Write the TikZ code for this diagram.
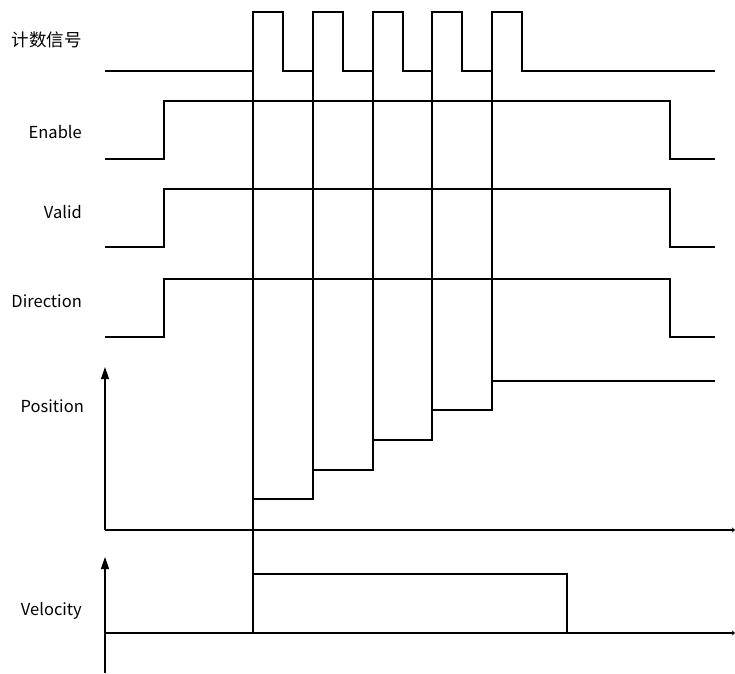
\documentclass[tikz,border=0pt]{standalone}
\usepackage{fontspec}
\setmainfont{Noto Sans CJK SC}
\usetikzlibrary{arrows.meta}

\begin{document}
\begin{tikzpicture}[x=1pt,y=-1pt,
    sig/.style={line width=1.8pt,line join=miter},
    guide/.style={line width=1.1pt},
    axis/.style={line width=1.3pt},
    lbl/.style={anchor=east,inner sep=0pt,font=\fontsize{16.5}{20}\selectfont}]
  \useasboundingbox (0,0) rectangle (735,673);
  % labels
  \node[lbl,font=\fontsize{17.5}{20}\selectfont] (cnt) at (82,40) {计数信号};
  \node[lbl] (en) at (82,132) {Enable};
  \node[lbl] (val) at (82,212) {Valid};
  \node[lbl] (dir) at (82,301) {Direction};
  \node[lbl] (pos) at (84,406) {Position};
  \node[lbl] (vel) at (82,611) {Velocity};
  % guide lines from the pulses
  \draw[guide] (253,71) -- (253,633);
  \foreach \gx/\gy in {313/470,373/440,432/410,492/381}
    \draw[guide] (\gx,71) -- (\gx,\gy);
  % counting pulses
  \draw[sig] (105,71) -- (253,71)
    \foreach \px in {253,313,373,432,492} {
      -- (\px,71) -- (\px,12) -- (\px+30,12) -- (\px+30,71)
    } -- (715,71);
  % enable, valid, direction
  \draw[sig] (105,159) -- (164,159) -- (164,101) -- (670,101) -- (670,159) -- (715,159);
  \draw[sig] (105,247) -- (164,247) -- (164,189) -- (670,189) -- (670,247) -- (715,247);
  \draw[sig] (105,337) -- (164,337) -- (164,279) -- (670,279) -- (670,337) -- (715,337);
  % position axes and steps
  \draw[axis,-{Triangle[length=12pt,width=8pt]}] (105,530) -- (105,367);
  \draw[guide,-{Stealth[length=3pt,width=5pt]}] (105,530) -- (735,530);
  \draw[sig] (105,530) -- (253,530) -- (253,499) -- (313,499) -- (313,470)
    -- (373,470) -- (373,440) -- (432,440) -- (432,410) -- (492,410)
    -- (492,381) -- (715,381);
  % velocity axes and pulse
  \draw[axis,-{Triangle[length=12pt,width=8pt]}] (105,673) -- (105,557);
  \draw[guide,-{Stealth[length=3pt,width=5pt]}] (105,633) -- (735,633);
  \draw[sig] (105,633) -- (253,633) -- (253,574) -- (567,574) -- (567,633) -- (715,633);
\end{tikzpicture}
\end{document}
